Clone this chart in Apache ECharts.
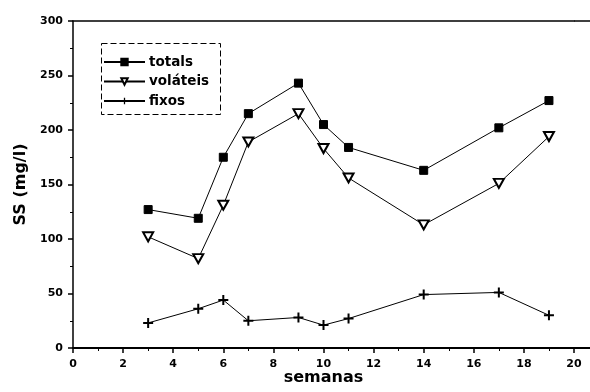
<!DOCTYPE html>
<html>
<head>
<meta charset="utf-8">
<script src="https://cdn.jsdelivr.net/npm/echarts@6/dist/echarts.min.js"></script>
<style>
  html, body { margin: 0; padding: 0; background: #fff; }
  #chart { width: 590px; height: 392px; }
</style>
</head>
<body>
<div id="chart"></div>
<script>
// Sampling weeks and suspended solids (mg/l)
const semanas   = [3, 5, 6, 7, 9, 10, 11, 14, 17, 19];
const totais    = [127, 119, 175, 215, 243, 205, 184, 163, 202, 227];
const volateis  = [102, 82, 131, 189, 215, 183, 156, 113, 151, 194];
const fixos     = [23, 36, 44, 25, 28, 21, 27, 49, 51, 30];
const seriesNames = ['totals', 'voláteis', 'fixos'];
const xTicks = [0, 2, 4, 6, 8, 10, 12, 14, 16, 18, 20];
const yTicks = [0, 50, 100, 150, 200, 250, 300];

const pair = (vals) => semanas.map((w, i) => [w, vals[i]]);

const INK = '#000';
const FONT = 'DejaVu Sans';
const triDown = 'path://M0,0 L10,0 L5,9 Z';
const plus = 'path://M4,0 L6,0 L6,4 L10,4 L10,6 L6,6 L6,10 L4,10 L4,6 L0,6 L0,4 L4,4 Z';

const lineBase = { type: 'line', lineStyle: { color: INK, width: 1 }, z: 3 };

const chart = echarts.init(document.getElementById('chart'), null, { renderer: 'canvas' });
chart.setOption({
  animation: false,
  backgroundColor: '#fff',
  grid: { left: 73, right: 16, top: 21, bottom: 44, containLabel: false, outerBoundsMode: 'none' },
  xAxis: [{
    type: 'value', min: xTicks[0], max: xTicks[xTicks.length - 1], interval: 2,
    name: 'semanas', nameLocation: 'middle', nameGap: 22, nameMoveOverlap: false,
    nameTextStyle: { color: INK, fontFamily: FONT, fontWeight: 'bold', fontSize: 16 },
    axisLine: { show: true, onZero: false, lineStyle: { color: INK, width: 2 } },
    axisTick: { show: true, length: 5, lineStyle: { color: INK, width: 1.5 } },
    minorTick: { show: true, splitNumber: 2, length: 3, lineStyle: { color: INK, width: 1 } },
    axisLabel: { color: INK, fontFamily: FONT, fontWeight: 'bold', fontSize: 11, margin: 11 },
    splitLine: { show: false }
  }, {
    type: 'value', position: 'top', min: xTicks[0], max: xTicks[xTicks.length - 1],
    axisLine: { show: true, onZero: false, lineStyle: { color: INK, width: 1.5 } },
    axisTick: { show: false }, axisLabel: { show: false }, splitLine: { show: false }
  }],
  yAxis: {
    type: 'value', min: yTicks[0], max: yTicks[yTicks.length - 1], interval: 50,
    name: 'SS (mg/l)', nameLocation: 'middle', nameGap: 44, nameMoveOverlap: false,
    nameTextStyle: { color: INK, fontFamily: FONT, fontWeight: 'bold', fontSize: 16 },
    axisLine: { show: true, onZero: false, lineStyle: { color: INK, width: 1.5 } },
    axisTick: { show: true, length: 5, lineStyle: { color: INK, width: 1.5 } },
    minorTick: { show: true, splitNumber: 2, length: 3, lineStyle: { color: INK, width: 1 } },
    axisLabel: { color: INK, fontFamily: FONT, fontWeight: 'bold', fontSize: 11, margin: 10 },
    splitLine: { show: false }
  },
  legend: {
    orient: 'vertical', left: 103, top: 55, padding: 0,
    itemWidth: 41, itemHeight: 8, itemGap: 5.5,
    textStyle: { color: INK, fontFamily: FONT, fontWeight: 'bold', fontSize: 13.5, padding: [0, 0, 0, -1] },
    data: seriesNames
  },
  graphic: [
    { type: 'rect', shape: { x: 101.5, y: 43.5, width: 119, height: 71 },
      style: { fill: 'none', stroke: INK, lineWidth: 1, lineDash: [6, 3] }, z: 10 },
    { type: 'line', shape: { x1: 574, y1: 21, x2: 590, y2: 21 }, style: { stroke: INK, lineWidth: 1.5 } },
    { type: 'line', shape: { x1: 574, y1: 348, x2: 590, y2: 348 }, style: { stroke: INK, lineWidth: 2 } }
  ],
  series: [
    Object.assign({}, lineBase, {
      name: seriesNames[0], data: pair(totais),
      symbol: 'rect', symbolSize: 8,
      itemStyle: { color: INK, borderColor: INK, borderWidth: 1 }
    }),
    Object.assign({}, lineBase, {
      name: seriesNames[1], data: pair(volateis),
      symbol: triDown, symbolSize: [10, 9],
      itemStyle: { color: '#fff', borderColor: INK, borderWidth: 2 }
    }),
    Object.assign({}, lineBase, {
      name: seriesNames[2], data: pair(fixos),
      symbol: plus, symbolSize: 10,
      itemStyle: { color: INK, borderColor: INK, borderWidth: 0 }
    })
  ]
});
</script>
</body>
</html>
